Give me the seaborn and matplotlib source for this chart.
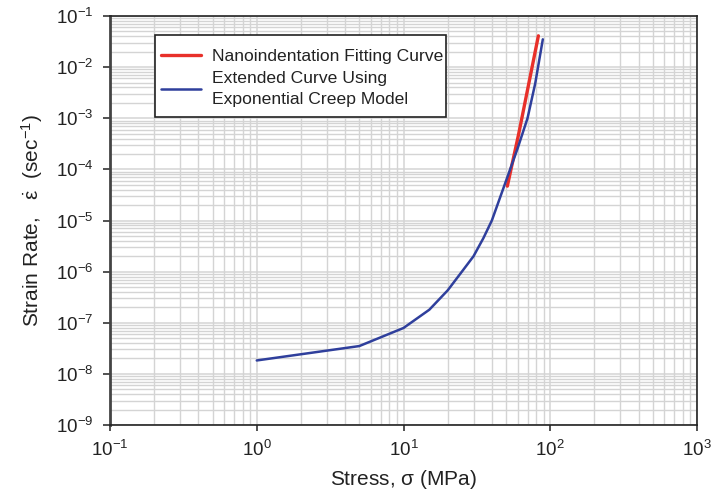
import matplotlib
matplotlib.use("Agg")
import matplotlib.pyplot as plt
import seaborn as sns
import pandas as pd
from matplotlib.patches import Rectangle
from matplotlib.ticker import LogLocator, NullFormatter

# Data
red_stress = [51.0, 61.0, 83.0]
red_rate = [4.7e-5, 5.0e-4, 4.1e-2]

blue_stress = [1, 5, 10, 15, 20, 25, 30, 35, 40, 50, 60, 70, 79, 89]
blue_rate = [1.83e-8, 3.5e-8, 7.9e-8, 1.8e-7, 4.3e-7, 1.0e-6, 2.0e-6,
             4.5e-6, 1.0e-5, 6.0e-5, 2.6e-4, 1.0e-3, 4.8e-3, 3.5e-2]

red_label = "Nanoindentation Fitting Curve"
blue_label = "Extended Curve Using\nExponential Creep Model"
x_label = "Stress, $\\mathrm{\\sigma}$ (MPa)"
y_label = "Strain Rate,   $\\mathrm{\\dot{\\varepsilon}}$  (sec$^{\\mathrm{-1}}$)"

sns.set_style("white")
plt.rcParams["font.family"] = ["Liberation Sans", "DejaVu Sans"]
plt.rcParams["mathtext.fontset"] = "custom"
plt.rcParams["mathtext.rm"] = "Liberation Sans"
plt.rcParams["mathtext.it"] = "Liberation Sans:italic"
plt.rcParams["mathtext.bf"] = "Liberation Sans:bold"
plt.rcParams["axes.unicode_minus"] = False

W, H = 728, 492
fig = plt.figure(figsize=(7.28, 4.92), dpi=100)
AX_L, AX_R, AX_T, AX_B = 110, 697, 16, 425
ax = fig.add_axes([AX_L / W, 1 - AX_B / H, (AX_R - AX_L) / W, (AX_B - AX_T) / H])


def ax_x(px):
    return (px - AX_L) / (AX_R - AX_L)


def ax_y(py):
    return (AX_B - py) / (AX_B - AX_T)


red_df = pd.DataFrame({"stress": red_stress, "rate": red_rate})
blue_df = pd.DataFrame({"stress": blue_stress, "rate": blue_rate})

sns.lineplot(data=red_df, x="stress", y="rate", ax=ax, color="#e8302a",
             linewidth=2.4, label=red_label, sort=False, estimator=None, zorder=3)
sns.lineplot(data=blue_df, x="stress", y="rate", ax=ax, color="#2f3f9c",
             linewidth=1.8, label=blue_label, sort=False, estimator=None, zorder=4)

ax.set_xscale("log")
ax.set_yscale("log")
ax.set_xlim(0.1, 1000)
ax.set_ylim(1e-9, 1e-1)

ax.xaxis.set_major_locator(LogLocator(base=10, numticks=20))
ax.yaxis.set_major_locator(LogLocator(base=10, numticks=20))
ax.xaxis.set_minor_locator(LogLocator(base=10, subs=range(2, 10), numticks=50))
ax.yaxis.set_minor_locator(LogLocator(base=10, subs=range(2, 10), numticks=50))
ax.xaxis.set_minor_formatter(NullFormatter())
ax.yaxis.set_minor_formatter(NullFormatter())

ax.grid(True, which="major", color="#d4d4d4", linewidth=1.1)
ax.grid(True, which="minor", color="#d4d4d4", linewidth=1.0)
ax.set_axisbelow(True)

for side in ["bottom", "top", "right"]:
    ax.spines[side].set_visible(True)
    ax.spines[side].set_color("#222222")
    ax.spines[side].set_linewidth(1.2)
ax.spines["left"].set_visible(True)
ax.spines["left"].set_color("#444444")
ax.spines["left"].set_linewidth(2.0)

ax.tick_params(axis="both", which="major", direction="out", width=1.2,
               color="#333333", labelsize=13.5, labelcolor="#222222",
               bottom=True, left=True, top=False, right=False)
ax.tick_params(axis="x", which="major", length=4.5, pad=6)
ax.tick_params(axis="y", which="major", length=5, pad=7)
ax.tick_params(axis="both", which="minor", length=0)

ax.set_xlabel(x_label, fontsize=15, color="#222222", labelpad=6)
ax.set_ylabel(y_label, fontsize=15, color="#222222", labelpad=8)

# legend frame drawn as a rectangle, legend entries without frame
box = Rectangle((ax_x(155), ax_y(117)), ax_x(446) - ax_x(155), ax_y(35) - ax_y(117),
                transform=ax.transAxes, facecolor="white", edgecolor="#222222",
                linewidth=1.2, zorder=5)
ax.add_patch(box)

leg = ax.legend(loc="upper left", bbox_to_anchor=(ax_x(161), ax_y(49)),
                borderaxespad=0, frameon=False, fontsize=12.6,
                handlelength=2.3, handletextpad=0.6, labelspacing=0.36,
                borderpad=0)
leg.set_zorder(6)
for t in leg.get_texts():
    t.set_color("#222222")
    t.set_linespacing(1.52)

fig.savefig("out.png", dpi=100)
